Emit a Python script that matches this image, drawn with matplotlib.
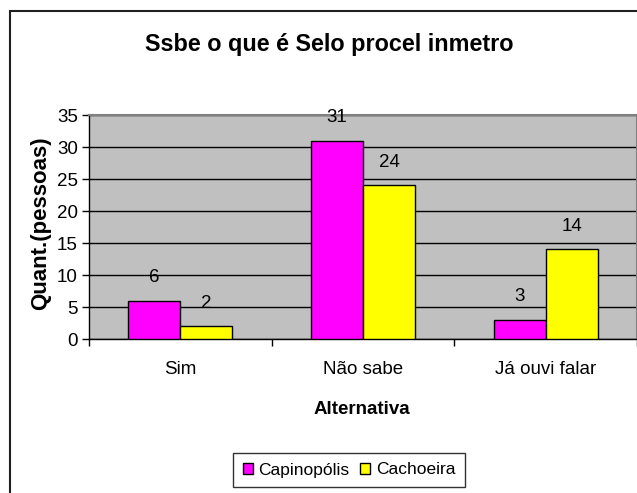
import matplotlib
matplotlib.use("Agg")
import matplotlib.pyplot as plt
from matplotlib.patches import Rectangle

categories = ["Sim", "Não sabe", "Já ouvi falar"]
capinopolis = [6, 31, 3]
cachoeira = [2, 24, 14]
series_names = ["Capinopólis", "Cachoeira"]
yticks = [0, 5, 10, 15, 20, 25, 30, 35]

REG = ["Liberation Sans", "DejaVu Sans"]
plt.rcParams['font.family'] = REG

W, H = 637, 493
fig = plt.figure(figsize=(W / 100, H / 100), dpi=100)

def fx(px):
    return px / W

def fy(py):
    return 1 - py / H

# outer frame (cut off at right/bottom)
fig.patches.append(Rectangle((fx(10), fy(700)), fx(800), fy(11) - fy(700),
                             transform=fig.transFigure, fill=False,
                             edgecolor="#202020", linewidth=1.5))
# cut-off text at the very top
fig.text(fx(52), fy(-9), "g", fontsize=14, va="baseline", ha="left")

ax = fig.add_axes([fx(89), fy(339), fx(637) - fx(89), fy(115) - fy(339)])
ax.set_facecolor("#C0C0C0")

FS = 13.5
bw = 0.284
xs = list(range(len(categories)))
ax.bar([x - bw / 2 for x in xs], capinopolis, width=bw, color="#FF00FF",
       edgecolor="black", linewidth=1.0, zorder=3, label=series_names[0])
ax.bar([x + bw / 2 for x in xs], cachoeira, width=bw, color="#FFFF00",
       edgecolor="black", linewidth=1.0, zorder=3, label=series_names[1])

for x, v in zip(xs, capinopolis):
    ax.annotate(str(v), (x - bw / 2, v), xytext=(0, 16.5), textcoords="offset points",
                ha="center", va="center", fontsize=FS)
for x, v in zip(xs, cachoeira):
    ax.annotate(str(v), (x + bw / 2, v), xytext=(0, 16.5), textcoords="offset points",
                ha="center", va="center", fontsize=FS)

ax.set_xlim(-0.5, len(categories) - 0.5)
ax.set_ylim(0, 35)
ax.set_yticks(yticks)
ax.set_yticklabels([str(t) for t in yticks], fontsize=FS)
ax.yaxis.grid(True, color="black", linewidth=1.0, zorder=1)
ax.set_axisbelow(True)

ax.set_xticks([-0.5, 0.5, 1.5, 2.5])
ax.set_xticklabels([])
ax.set_xticks(xs, minor=True)
ax.set_xticklabels(categories, minor=True, fontsize=FS)
ax.tick_params(axis="x", which="minor", length=0, pad=16)
ax.tick_params(axis="x", which="major", length=5, direction="out", color="black", width=1)
ax.tick_params(axis="y", length=5, direction="out", color="black", width=1, pad=3)

for s in ["top", "right"]:
    ax.spines[s].set_color("#808080")
    ax.spines[s].set_linewidth(1.5)
for s in ["left", "bottom"]:
    ax.spines[s].set_color("black")
    ax.spines[s].set_linewidth(1.0)

fig.text(fx(329), fy(45), "Ssbe o que é Selo procel inmetro", fontsize=16.8,
         fontweight="bold", ha="center", va="center")
fig.text(fx(362), fy(409), "Alternativa", fontsize=13.5, fontweight="bold",
         ha="center", va="center")
fig.text(fx(41), fy(223), "Quant.(pessoas)", fontsize=16, fontweight="bold",
         rotation=90, ha="center", va="center")

handles, labels = ax.get_legend_handles_labels()
leg = fig.legend(handles, labels, loc="center", bbox_to_anchor=(fx(349), fy(470)),
                 ncol=2, fontsize=12.5, frameon=True, fancybox=False,
                 handlelength=0.6, handleheight=0.6, handletextpad=0.3,
                 columnspacing=0.6, borderpad=0.55, borderaxespad=0)
leg.get_frame().set_edgecolor("black")
leg.get_frame().set_linewidth(1.0)

fig.savefig("out.png", dpi=100)
